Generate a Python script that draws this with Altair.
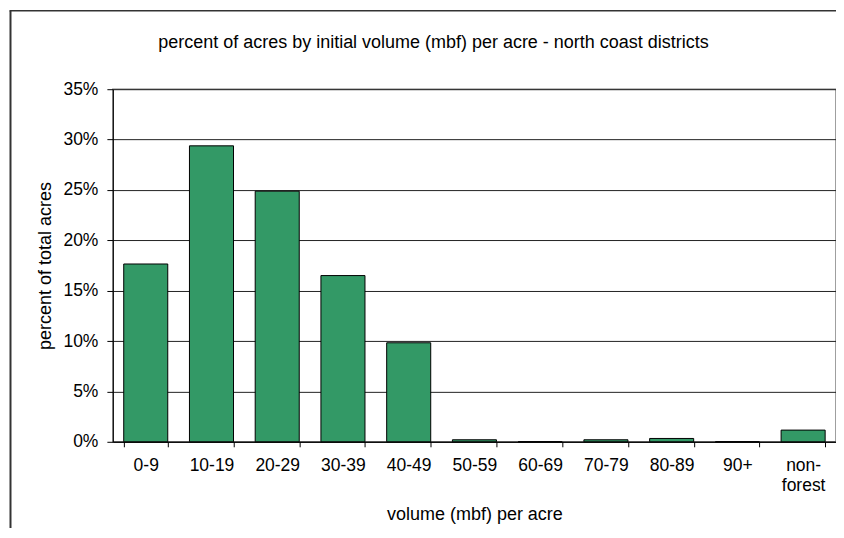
import altair as alt
import pandas as pd

categories = ["0-9", "10-19", "20-29", "30-39", "40-49", "50-59",
              "60-69", "70-79", "80-89", "90+", "non-forest"]
percent_acres = [0.1765, 0.2938, 0.2488, 0.1650, 0.0983, 0.0020,
                 0.0000, 0.0020, 0.0033, 0.0000, 0.0116]
y_ticks = [0, 0.05, 0.10, 0.15, 0.20, 0.25, 0.30, 0.35]

title_text = "percent of acres by initial volume (mbf) per acre - north coast districts"

df = pd.DataFrame({"volume": categories, "pct": percent_acres})

W, H = 724, 353
FONT = "Liberation Sans"
LFS = 17.5
TFS = 18

bars = alt.Chart(df).mark_bar(
    fill="#339966", stroke="#000000", strokeWidth=1
).encode(
    x=alt.X("volume:N", sort=categories,
            scale=alt.Scale(paddingInner=0.33, paddingOuter=0.165),
            axis=alt.Axis(title="volume (mbf) per acre", labelAngle=0,
                          tickBand="extent", tickSize=5, tickColor="#000",
                          domainColor="#000", labelPadding=10,
                          labelExpr="datum.value == 'non-forest' ? ['non-', 'forest'] : datum.value",
                          labelLineHeight=20,
                          labelFontSize=LFS, labelFont=FONT, labelColor="#000",
                          titleFontSize=TFS, titleFont=FONT, titleFontWeight="normal",
                          titleColor="#000", titleY=73, titleBaseline="middle")),
    y=alt.Y("pct:Q", scale=alt.Scale(domain=[0, 0.35], nice=False),
            axis=alt.Axis(title="percent of total acres", format=".0%", values=y_ticks,
                          grid=True, gridColor="#222", gridWidth=1,
                          tickSize=6, tickColor="#000", domainColor="#000",
                          labelPadding=9, labelFontSize=LFS, labelFont=FONT, labelColor="#000",
                          titleFontSize=TFS, titleFont=FONT, titleFontWeight="normal",
                          titleColor="#000", titleX=-67, titleY=H / 2,
                          titleBaseline="middle", titleAngle=-90)),
)

title = alt.Chart(pd.DataFrame({"t": [title_text]})).mark_text(
    font=FONT, fontSize=TFS, color="#000", align="center", baseline="middle"
).encode(text="t:N", x=alt.value(321), y=alt.value(-46))

frame_left = alt.Chart(pd.DataFrame({"a": [0]})).mark_rule(
    color="#333", strokeWidth=2
).encode(x=alt.value(-102.5), y=alt.value(-78.5), y2=alt.value(H + 120))

frame_top = alt.Chart(pd.DataFrame({"a": [0]})).mark_rule(
    color="#333", strokeWidth=1.5
).encode(y=alt.value(-78.5), x=alt.value(-103.5), x2=alt.value(W + 20))

chart = alt.layer(bars, title, frame_left, frame_top).properties(
    width=W, height=H,
    autosize=alt.AutoSizeParams(type="none"),
    padding={"left": 105, "top": 81, "right": 0, "bottom": 86},
).configure_view(stroke="#808080", strokeWidth=1.5)

chart.save("out.html", embed_options={"renderer": "svg", "actions": False})
